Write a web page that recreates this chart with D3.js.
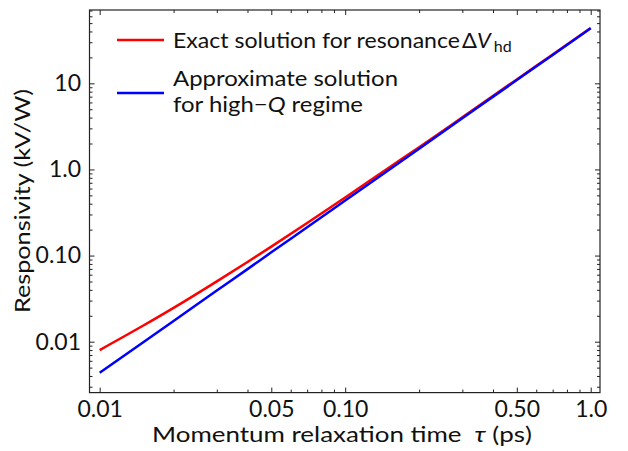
<!DOCTYPE html>
<html>
<head>
<meta charset="utf-8">
<script src="https://cdn.jsdelivr.net/npm/d3@7"></script>
<style>
  body { margin: 0; background: #fff; }
  text { font-family: Lato, "Open Sans", sans-serif; fill: #111; }
</style>
</head>
<body>
<div id="chart"></div>
<script>
// values
const tau = [0.01, 0.015, 0.02, 0.03, 0.04, 0.05, 0.07, 0.1, 0.15, 0.2, 0.3, 0.5, 0.7, 1.0];
const exactResp = [0.0080, 0.0153, 0.0247, 0.0502, 0.0842, 0.127, 0.239, 0.472, 1.04, 1.81, 4.03, 11.1, 21.6, 43.8];
const approxResp = [0.00435, 0.0098, 0.0174, 0.0392, 0.0696, 0.109, 0.213, 0.435, 0.98, 1.74, 3.92, 10.9, 21.3, 43.5];

const xMajor = [0.01, 0.05, 0.1, 0.5, 1.0];
const xMajorLabels = ["0.01", "0.05", "0.10", "0.50", "1.0"];
const xMinor = [0.02, 0.03, 0.04, 0.06, 0.07, 0.08, 0.09, 0.2, 0.3, 0.4, 0.6, 0.7, 0.8, 0.9];
const yMajor = [0.01, 0.1, 1, 10];
const yMajorLabels = ["0.01", "0.10", "1.0", "10"];
const yMinor = [];
[0.001, 0.01, 0.1, 1, 10].forEach(function(d) {
  for (let k = 2; k <= 9; k++) yMinor.push(d * k);
});

const width = 628, height = 451;
const margin = {left: 89.5, right: 28, top: 10, bottom: 58.4};

const svg = d3.select("#chart").append("svg")
  .attr("width", width).attr("height", height);

let x = d3.scaleLog()
  .domain([0.00909, 1.091])
  .range([margin.left, width - margin.right]);
let y = d3.scaleLog()
  .domain([0.002564, 71.0])
  .range([height - margin.bottom, margin.top]);

const yMinorIn = yMinor.filter(function(d) { return d > y.domain()[0] && d < y.domain()[1]; });

function styleAxis(g) {
  g.select(".domain").remove();
  g.selectAll("line").attr("stroke", "#222").attr("stroke-width", 1);
  g.selectAll("text").style("font-size", "23px").attr("fill", "#111");
}

const fmtX = function(d) { return xMajorLabels[xMajor.indexOf(d)]; };
const fmtY = function(d) { return yMajorLabels[yMajor.indexOf(d)]; };

// bottom
svg.append("g").attr("transform", "translate(0," + y.range()[0] + ")")
  .call(d3.axisBottom(x).tickValues(xMajor).tickFormat(fmtX).tickSize(-5).tickPadding(8.5))
  .call(styleAxis);
svg.append("g").attr("transform", "translate(0," + y.range()[0] + ")")
  .call(d3.axisBottom(x).tickValues(xMinor).tickFormat("").tickSize(-3))
  .call(styleAxis);
// top
svg.append("g").attr("transform", "translate(0," + y.range()[1] + ")")
  .call(d3.axisTop(x).tickValues(xMajor).tickFormat("").tickSize(-5))
  .call(styleAxis);
svg.append("g").attr("transform", "translate(0," + y.range()[1] + ")")
  .call(d3.axisTop(x).tickValues(xMinor).tickFormat("").tickSize(-3))
  .call(styleAxis);
// left
svg.append("g").attr("transform", "translate(" + x.range()[0] + ",0)")
  .call(d3.axisLeft(y).tickValues(yMajor).tickFormat(fmtY).tickSize(-5).tickPadding(8.5))
  .call(styleAxis);
svg.append("g").attr("transform", "translate(" + x.range()[0] + ",0)")
  .call(d3.axisLeft(y).tickValues(yMinorIn).tickFormat("").tickSize(-3))
  .call(styleAxis);
// right
svg.append("g").attr("transform", "translate(" + x.range()[1] + ",0)")
  .call(d3.axisRight(y).tickValues(yMajor).tickFormat("").tickSize(-5))
  .call(styleAxis);
svg.append("g").attr("transform", "translate(" + x.range()[1] + ",0)")
  .call(d3.axisRight(y).tickValues(yMinorIn).tickFormat("").tickSize(-3))
  .call(styleAxis);

// empty minor labels are not needed
svg.selectAll("text").filter(function() { return this.textContent === ""; }).remove();

// frame
svg.append("rect")
  .attr("x", x.range()[0]).attr("y", y.range()[1])
  .attr("width", x.range()[1] - x.range()[0])
  .attr("height", y.range()[0] - y.range()[1])
  .attr("fill", "none").attr("stroke", "#222").attr("stroke-width", 1.2);

const line = d3.line()
  .x(function(d) { return x(d[0]); })
  .y(function(d) { return y(d[1]); })
  .curve(d3.curveMonotoneX);

svg.append("path")
  .datum(tau.map(function(t, i) { return [t, exactResp[i]]; }))
  .attr("d", line).attr("fill", "none").attr("stroke", "#ff0000").attr("stroke-width", 2.5);
svg.append("path")
  .datum(tau.map(function(t, i) { return [t, approxResp[i]]; }))
  .attr("d", line).attr("fill", "none").attr("stroke", "#0000ff").attr("stroke-width", 2.5);

// axis titles (the original glyphs are a bit wider, so stretch to its width)
const xt = svg.append("text")
  .attr("x", 152).attr("y", 441.5)
  .attr("textLength", 380).attr("lengthAdjust", "spacingAndGlyphs")
  .style("font-size", "20.5px");
xt.append("tspan").text("Momentum relaxation time ");
xt.append("tspan").attr("dx", 5).style("font-style", "italic").text("τ");
xt.append("tspan").text(" (ps)");

svg.append("text")
  .attr("transform", "translate(30,201) rotate(-90)")
  .attr("text-anchor", "middle")
  .attr("textLength", 224).attr("lengthAdjust", "spacingAndGlyphs")
  .style("font-size", "21px")
  .text("Responsivity (kV/W)");

// legend
const legend = svg.append("g");
legend.append("line").attr("x1", 117).attr("x2", 164).attr("y1", 40).attr("y2", 40)
  .attr("stroke", "#ff0000").attr("stroke-width", 2.5);
legend.append("line").attr("x1", 117).attr("x2", 164).attr("y1", 93).attr("y2", 93)
  .attr("stroke", "#0000ff").attr("stroke-width", 2.5);

legend.append("text").attr("x", 173).attr("y", 48.3)
  .attr("textLength", 287).attr("lengthAdjust", "spacingAndGlyphs")
  .style("font-size", "21px")
  .text("Exact solution for resonance");
const dv = legend.append("text").attr("x", 462).attr("y", 48.3).style("font-size", "22px");
dv.append("tspan").text("\u0394");
dv.append("tspan").style("font-style", "italic").text("V");
dv.append("tspan").attr("dx", 3).attr("dy", 3.5).style("font-size", "16px").text("hd");

legend.append("text").attr("x", 173).attr("y", 85.5)
  .attr("textLength", 225).attr("lengthAdjust", "spacingAndGlyphs")
  .style("font-size", "21px")
  .text("Approximate solution");
const l3 = legend.append("text").attr("x", 173).attr("y", 111.5)
  .attr("textLength", 190).attr("lengthAdjust", "spacingAndGlyphs")
  .style("font-size", "21px");
l3.append("tspan").text("for high\u2212");
l3.append("tspan").style("font-style", "italic").text("Q");
l3.append("tspan").text(" regime");
</script>
</body>
</html>
